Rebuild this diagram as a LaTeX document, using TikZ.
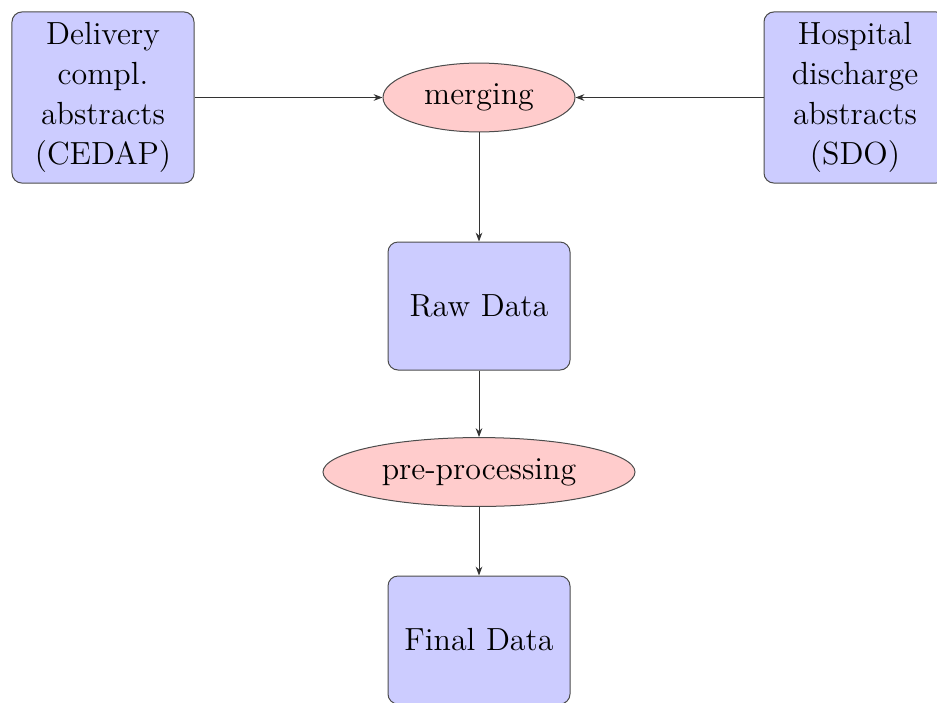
\documentclass[tikz,border=0pt]{standalone}
\usetikzlibrary{shapes.geometric,arrows.meta}
\begin{document}
\begin{tikzpicture}[x=0.45pt,y=-0.45pt,
  font=\Large,
  databox/.style={draw=black!70, fill=blue!20, rounded corners=4.5pt, line width=0.45pt,
    align=center, inner sep=0pt, text width=81.9pt, minimum width=81.9pt},
  procell/.style={draw=black!70, fill=red!20, ellipse, line width=0.45pt,
    inner sep=0pt, minimum height=31pt},
  flow/.style={-{Stealth[length=4pt,width=3pt]}, line width=0.45pt, black!80}]
  \useasboundingbox (0,0) rectangle (937,702);
  \node[databox, minimum height=77pt] (cedap) at (103,97.5) {Delivery\\compl.\\abstracts\\(CEDAP)};
  \node[databox, minimum height=77pt] (sdo) at (855,97.5) {Hospital\\discharge\\abstracts\\(SDO)};
  \node[procell, minimum width=86.4pt] (merge) at (479,97.5) {merging};
  \node[databox, minimum height=57.6pt] (raw) at (479,306) {Raw Data};
  \node[procell, minimum width=140.4pt] (prep) at (479,472) {pre-processing};
  \node[databox, minimum height=57.6pt] (final) at (479,640) {Final Data};
  \draw[flow] (cedap) -- (merge);
  \draw[flow] (sdo) -- (merge);
  \draw[flow] (merge) -- (raw);
  \draw[flow] (raw) -- (prep);
  \draw[flow] (prep) -- (final);
\end{tikzpicture}
\end{document}
